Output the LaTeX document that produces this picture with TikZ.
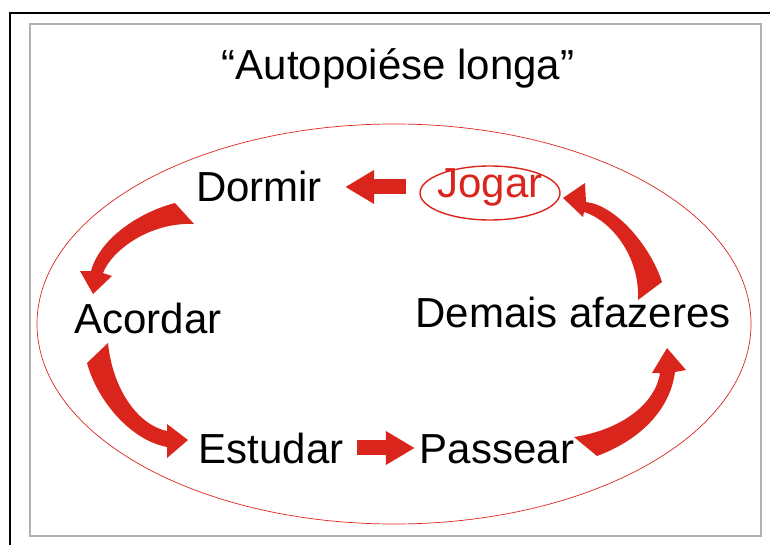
\documentclass[tikz,border=0pt]{standalone}
\usepackage{fontspec}
\setmainfont{Liberation Sans}
\usetikzlibrary{arrows.meta}
\definecolor{arrowred}{RGB}{218,37,29}

\begin{document}
\begin{tikzpicture}[x=1pt, y=-1pt,
    lbl/.style={font=\fontsize{42}{50}\selectfont, inner sep=0pt, anchor=base},
    blockarrow/.style={draw=arrowred, line width=15pt, -{Triangle[length=29pt,width=32pt]}},
    fatarrow/.style={fill=arrowred},
    thinred/.style={draw=arrowred, line width=0.7pt}]
    \useasboundingbox (0,0) rectangle (770,545);

    % frames
    \draw[line width=2.2pt] (771,13) -- (10,13) -- (10,546);
    \draw[gray!60, line width=1.2pt] (30,24) rectangle (761,536);
    \draw[thinred] (394,324) ellipse [x radius=357pt, y radius=200pt];

    \node[lbl] (titulo) at (398,80) {“Autopoiése longa”};
    \node[lbl] (dormir) at (259,202) {Dormir};
    \node[lbl, text=arrowred] (jogar) at (490,198) {Jogar};
    \draw[thinred, line width=1.4pt] (490,193) ellipse [x radius=70pt, y radius=27pt];
    \node[lbl] (acordar) at (148,333) {Acordar};
    \node[lbl] (demais) at (573,327) {Demais afazeres};
    \node[lbl] (estudar) at (271,463) {Estudar};
    \node[lbl] (passear) at (497,463) {Passear};

    \draw[blockarrow, shorten <=31pt, shorten >=23pt] (jogar.west |- dormir.east) -- (dormir.east);
    \draw[blockarrow, shorten <=13pt, shorten >=5pt] (estudar.east) -- (passear.west |- estudar.east);

    % curved arrows
    \fill[fatarrow] (175,203) .. controls (140,212) and (100,238) .. (91,271) -- (80,271) -- (93,294)
        -- (112,276) -- (103,273) .. controls (112,250) and (150,222) .. (194,224) -- cycle;
    \fill[fatarrow] (87,363) .. controls (97,400) and (130,440) .. (167,447) -- (167,458) -- (188,440)
        -- (167,424) -- (167,431) .. controls (135,424) and (112,385) .. (108,343) -- cycle;
    \fill[fatarrow] (597,456) .. controls (640,440) and (670,410) .. (675,372) -- (686,370) -- (667,348)
        -- (652,373) -- (660,373) .. controls (655,405) and (620,430) .. (574,437) -- cycle;
    \fill[fatarrow] (662,282) .. controls (650,245) and (615,205) .. (586,202) -- (585,183) -- (563,198)
        -- (583,217) -- (584,212) .. controls (610,220) and (640,255) .. (638,300) -- cycle;
\end{tikzpicture}
\end{document}
